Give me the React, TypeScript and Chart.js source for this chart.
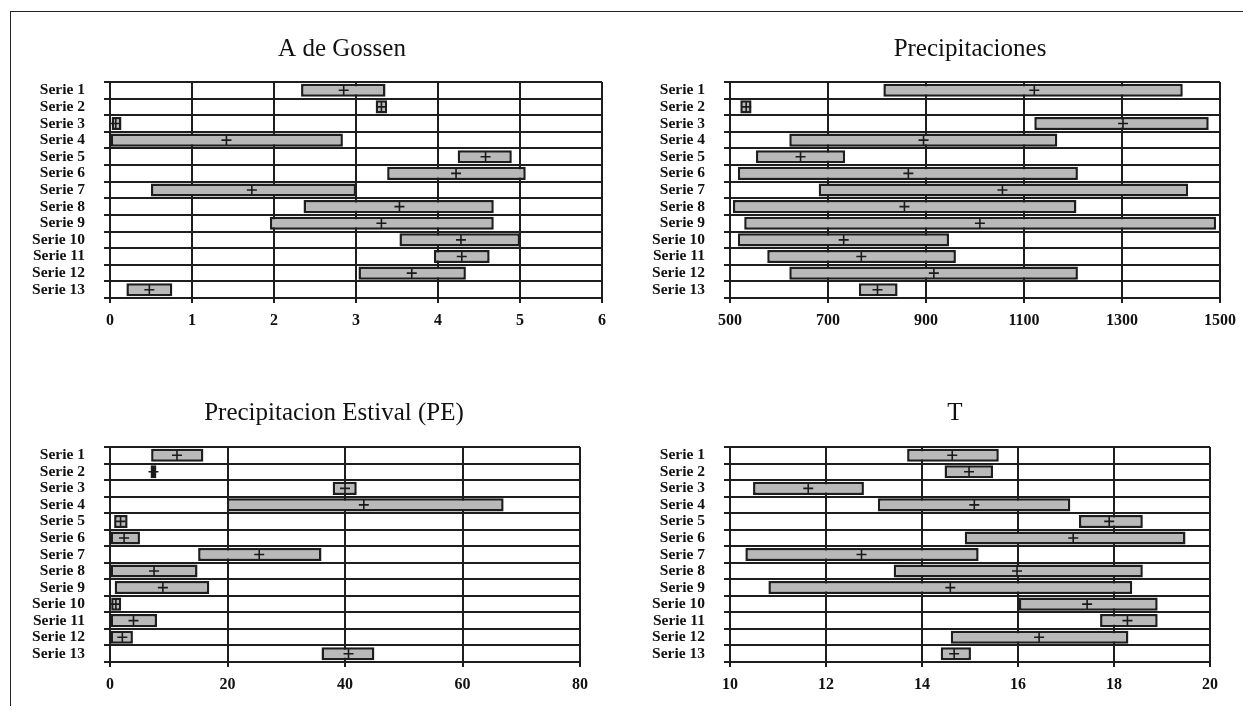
import React, { useEffect, useRef } from "react";
import { Chart, registerables } from "chart.js";

Chart.register(...registerables);

const categories = [
  "Serie 1", "Serie 2", "Serie 3", "Serie 4", "Serie 5", "Serie 6", "Serie 7",
  "Serie 8", "Serie 9", "Serie 10", "Serie 11", "Serie 12", "Serie 13",
];

// A de Gossen
const gossenMin = [2.33, 3.24, 0.02, 0.01, 4.24, 3.38, 0.5, 2.36, 1.95, 3.53, 3.95, 3.03, 0.2];
const gossenMax = [3.36, 3.38, 0.14, 2.84, 4.9, 5.07, 3.0, 4.68, 4.68, 5.0, 4.63, 4.34, 0.76];
const gossenMean = [2.85, 3.31, 0.07, 1.42, 4.58, 4.22, 1.73, 3.53, 3.31, 4.28, 4.29, 3.68, 0.48];
const gossenTicks = [0, 1, 2, 3, 4, 5, 6];

// Precipitaciones
const precMin = [813, 521, 1121, 621, 553, 516, 681, 506, 529, 516, 576, 621, 763];
const precMax = [1424, 544, 1477, 1168, 735, 1210, 1435, 1207, 1492, 947, 961, 1210, 842];
const precMean = [1121, 533, 1302, 895, 644, 864, 1056, 856, 1010, 732, 768, 916, 801];
const precTicks = [500, 700, 900, 1100, 1300, 1500];

// Precipitacion Estival (PE)
const peMin = [7.0, 6.9, 37.9, 19.9, 0.7, 0.1, 15.0, 0.1, 0.8, 0.2, 0.1, 0.1, 36.0];
const peMax = [15.9, 7.9, 42.0, 67.0, 3.0, 5.1, 36.0, 14.9, 16.9, 1.9, 8.0, 3.9, 45.0];
const peMean = [11.4, 7.4, 40.0, 43.2, 1.8, 2.4, 25.4, 7.5, 9.0, 1.0, 4.0, 2.1, 40.6];
const peTicks = [0, 20, 40, 60, 80];

// T
const tMin = [13.69, 14.47, 10.48, 13.08, 17.27, 14.89, 10.32, 13.41, 10.8, 16.02, 17.71, 14.6, 14.39];
const tMax = [15.6, 15.48, 12.79, 17.09, 18.6, 19.49, 15.18, 18.6, 18.38, 18.91, 18.91, 18.3, 15.02];
const tMean = [14.63, 14.98, 11.63, 15.09, 17.9, 17.15, 12.74, 15.98, 14.59, 17.44, 18.28, 16.44, 14.67];
const tTicks = [10, 12, 14, 16, 18, 20];

type PanelProps = {
  title: string;
  mins: number[];
  maxs: number[];
  means: number[];
  ticks: number[];
  left: number;
  top: number;
  width: number;
  height: number;
  yWidth: number;
  rightSpace: number;
  titlePadTop: number;
  titlePadBottom: number;
};

const SERIF = "'Liberation Serif', 'DejaVu Serif', serif";

function Panel(p: PanelProps) {
  const ref = useRef<HTMLCanvasElement>(null);
  useEffect(() => {
    if (!ref.current) return;
    const chart = new Chart(ref.current, {
      type: "bar",
      data: {
        labels: categories,
        datasets: [
          {
            type: "line",
            data: p.means,
            indexAxis: "y",
            showLine: false,
            pointStyle: "cross",
            pointRadius: 5,
            pointBorderWidth: 1.6,
            borderColor: "#1a1a1a",
            backgroundColor: "#1a1a1a",
            order: 0,
          } as any,
          {
            type: "bar",
            data: p.mins.map((m, i) => [m, p.maxs[i]]),
            backgroundColor: "#b9b9b9",
            borderColor: "#1e1e1e",
            borderWidth: 2.5,
            borderSkipped: false,
            barPercentage: 0.79,
            categoryPercentage: 1,
            order: 1,
          } as any,
        ],
      },
      options: {
        indexAxis: "y",
        animation: false,
        responsive: false,
        maintainAspectRatio: false,
        layout: { padding: 0 },
        plugins: {
          legend: { display: false },
          tooltip: { enabled: false },
          title: {
            display: true,
            text: p.title,
            color: "#111",
            font: { family: SERIF, size: 25, weight: "normal" },
            padding: { top: p.titlePadTop, bottom: p.titlePadBottom },
          },
        },
        scales: {
          x: {
            type: "linear",
            min: p.ticks[0],
            max: p.ticks[p.ticks.length - 1],
            afterBuildTicks: (scale: any) => {
              scale.ticks = p.ticks.map((v) => ({ value: v }));
            },
            ticks: {
              color: "#111",
              font: { family: SERIF, size: 16, weight: "bold" },
              padding: 8,
              maxRotation: 0,
              callback: (v: any) => String(v),
            },
            grid: { color: "#1e1e1e", lineWidth: 2, tickLength: 5, tickColor: "#1e1e1e" },
            border: { display: true, color: "#1e1e1e", width: 2 },
            afterFit: (scale: any) => {
              scale.height = 36;
            },
          },
          y: {
            type: "category",
            offset: true,
            ticks: {
              color: "#111",
              font: { family: SERIF, size: 15.5, weight: "bold" },
              padding: 19,
              autoSkip: false,
            },
            grid: { color: "#1e1e1e", lineWidth: 2, offset: true, tickLength: 6, tickColor: "#1e1e1e" },
            border: { display: true, color: "#1e1e1e", width: 2 },
            afterFit: (scale: any) => {
              scale.width = p.yWidth;
            },
          },
          spacer: {
            type: "linear",
            position: "right",
            axis: "y",
            display: true,
            min: 0,
            max: 1,
            ticks: { display: false },
            grid: { display: false },
            border: { display: false },
            afterFit: (scale: any) => {
              scale.width = p.rightSpace;
            },
          },
        },
      } as any,
    });
    return () => chart.destroy();
  }, []);
  return (
    <canvas
      ref={ref}
      width={p.width}
      height={p.height}
      style={{ position: "absolute", left: p.left, top: p.top, width: p.width, height: p.height }}
    />
  );
}

export default function App() {
  return (
    <div
      style={{
        position: "absolute",
        left: 0,
        top: 0,
        width: 1243,
        height: 718,
        background: "#fff",
        overflow: "hidden",
      }}
    >
      <div
        style={{
          position: "absolute",
          left: 10,
          top: 11,
          width: 1240,
          height: 694,
          borderTop: "1.5px solid #222",
          borderLeft: "1.5px solid #222",
        }}
      />
      <Panel title="A de Gossen" mins={gossenMin} maxs={gossenMax} means={gossenMean} ticks={gossenTicks}
        left={20} top={10} width={644} height={324} yWidth={90} rightSpace={62} titlePadTop={24} titlePadBottom={18} />
      <Panel title="Precipitaciones" mins={precMin} maxs={precMax} means={precMean} ticks={precTicks}
        left={640} top={10} width={660} height={324} yWidth={90} rightSpace={80} titlePadTop={24} titlePadBottom={18} />
      <Panel title="Precipitacion Estival (PE)" mins={peMin} maxs={peMax} means={peMean} ticks={peTicks}
        left={20} top={366} width={628} height={332} yWidth={90} rightSpace={68} titlePadTop={32} titlePadBottom={19} />
      <Panel title="T" mins={tMin} maxs={tMax} means={tMean} ticks={tTicks}
        left={640} top={366} width={630} height={332} yWidth={90} rightSpace={60} titlePadTop={32} titlePadBottom={19} />
    </div>
  );
}
